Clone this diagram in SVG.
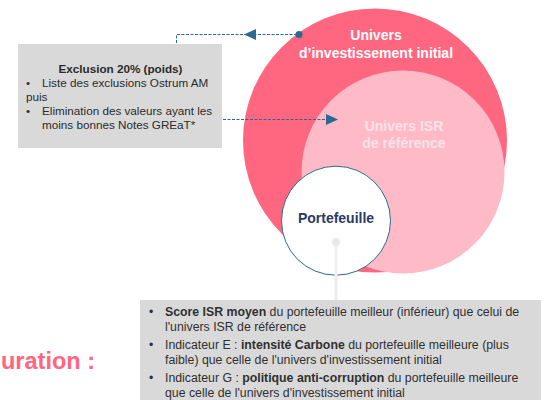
<svg xmlns="http://www.w3.org/2000/svg" width="545" height="400" viewBox="0 0 545 400">
<style>
text{font-family:"Liberation Sans",Arial,sans-serif}
.w{fill:#fff;font-weight:700;font-size:14px;text-anchor:middle}
.p{fill:#fbe3e8}
.t{font-size:11.700px;fill:#2b2b2b}
.b{font-size:12.300px;fill:#303030}
.d{fill:none;stroke:#2a6a8c;stroke-width:1;stroke-dasharray:3 1.5}
.h{fill:#2a6a8c}
</style>
<rect width="545" height="400" fill="#fff"/>
<g id="univers-initial"><circle cx="375" cy="140.500" r="132" fill="#ff6680"/>
<text class="w" x="376" y="40">Univers</text><text class="w" x="376" y="58">d’investissement initial</text></g>
<g id="univers-isr"><circle cx="403" cy="172" r="101.500" fill="#ffbac7"/>
<text class="w p" x="404" y="131">Univers ISR</text><text class="w p" x="404" y="148">de référence</text></g>
<g id="exclusion"><rect x="18" y="44" width="204" height="104" fill="#d9d9d9"/>
<text class="t" x="120.500" y="73" text-anchor="middle" style="font-weight:700">Exclusion 20% (poids)</text>
<text class="t" x="26" y="87">•</text><text class="t" x="42" y="87">Liste des exclusions Ostrum AM</text>
<text class="t" x="26" y="101">puis</text>
<text class="t" x="26" y="115">•</text><text class="t" x="42" y="115">Elimination des valeurs ayant les</text>
<text class="t" x="42" y="129">moins bonnes Notes GREaT*</text></g>
<g id="connectors">
<path class="d" d="M176.500 43V34.500H300"/>
<polygon class="h" points="244,34.500 256,29 256,40"/>
<circle class="h" cx="299" cy="34.500" r="3.500"/>
<path class="d" d="M223 119.500H328"/>
<polygon class="h" points="338,119.500 326,114 326,125"/>
<path d="M336 277V300" stroke="#ececec" stroke-width="3" fill="none"/>
</g>
<g id="portefeuille"><circle cx="336" cy="220.700" r="54.500" fill="#fff" stroke="#2a6a8c" stroke-width="1"/>
<text x="336" y="223" text-anchor="middle" font-weight="700" font-size="14" fill="#2b3a67">Portefeuille</text>
<path d="M336 243V277" stroke="#f0f0f0" stroke-width="3" fill="none"/>
<circle cx="336" cy="242" r="4" fill="#e8e8e8"/></g>
<g id="criteres"><rect x="140" y="300" width="401" height="100" fill="#d9d9d9"/>
<text class="b" x="149" y="316">•</text>
<text class="b" x="165" y="316"><tspan font-weight="700">Score ISR moyen</tspan> du portefeuille meilleur (inférieur) que celui de</text>
<text class="b" x="165" y="331">l'univers ISR de référence</text>
<text class="b" x="149" y="349">•</text>
<text class="b" x="165" y="349">Indicateur E : <tspan font-weight="700">intensité Carbone</tspan> du portefeuille meilleure (plus</text>
<text class="b" x="165" y="364">faible) que celle de l'univers d'investissement initial</text>
<text class="b" x="149" y="382">•</text>
<text class="b" x="165" y="382">Indicateur G : <tspan font-weight="700">politique anti-corruption</tspan> du portefeuille meilleure</text>
<text class="b" x="165" y="397">que celle de l'univers d'investissement initial</text></g>
<text x="95" y="369" text-anchor="end" font-weight="700" font-size="23.500" fill="#ff6680">uration :</text>
</svg>
